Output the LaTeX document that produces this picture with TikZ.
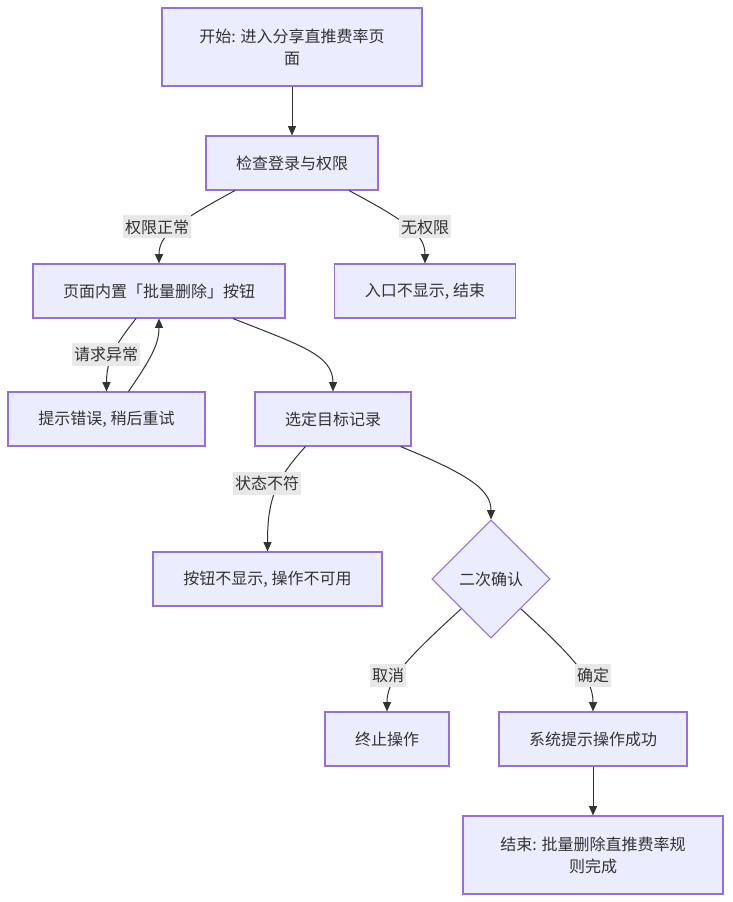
\documentclass[tikz,border=0pt]{standalone}
\usepackage{fontspec}
\newfontfamily\cjk{Noto Sans CJK SC}
\usetikzlibrary{shapes.geometric,arrows.meta,calc}
\definecolor{nodefill}{HTML}{ECECFF}
\definecolor{nodeline}{HTML}{9370DB}
\definecolor{edgecol}{HTML}{333333}
\definecolor{lblfill}{HTML}{E8E8E8}
\definecolor{txtcol}{HTML}{333333}
\begin{document}
\begin{tikzpicture}[x=0.75pt,y=-0.75pt,
  box/.style={draw=nodeline,fill=nodefill,line width=0.8pt,align=center,
    font=\cjk\fontsize{12pt}{16.5pt}\selectfont,text=txtcol,inner sep=0pt},
  dia/.style={diamond,draw=nodeline,fill=nodefill,line width=0.8pt,
    font=\cjk\fontsize{12pt}{16.5pt}\selectfont,text=txtcol,inner sep=0pt,
    minimum width=118*0.75pt,minimum height=118*0.75pt},
  lbl/.style={fill=lblfill,font=\cjk\fontsize{12pt}{16.5pt}\selectfont,text=txtcol,
    inner xsep=1.5pt,inner ysep=0pt,minimum height=23*0.75pt},
  edge/.style={draw=edgecol,line width=0.75pt,-{Triangle[length=7pt,width=6pt]}}
]
\useasboundingbox[fill=white] (0,0) rectangle (732,902);

% nodes
\node[box,minimum width=260*0.75pt,minimum height=78*0.75pt] (start) at (292,47) {开始: 进入分享直推费率页\\面};
\node[box,minimum width=172*0.75pt,minimum height=54*0.75pt] (check) at (292,163) {检查登录与权限};
\node[box,minimum width=252*0.75pt,minimum height=54*0.75pt] (btn) at (159,291) {页面内置「批量删除」按钮};
\node[box,minimum width=181*0.75pt,minimum height=54*0.75pt] (noperm) at (425,291) {入口不显示, 结束};
\node[box,minimum width=197*0.75pt,minimum height=54*0.75pt] (err) at (106.5,419) {提示错误, 稍后重试};
\node[box,minimum width=156*0.75pt,minimum height=54*0.75pt] (select) at (333,419) {选定目标记录};
\node[box,minimum width=229*0.75pt,minimum height=54*0.75pt] (hide) at (267.5,579) {按钮不显示, 操作不可用};
\node[dia] (confirm) at (491,579) {二次确认};
\node[box,minimum width=124*0.75pt,minimum height=54*0.75pt] (abort) at (387,739) {终止操作};
\node[box,minimum width=188*0.75pt,minimum height=54*0.75pt] (success) at (593,739) {系统提示操作成功};
\node[box,minimum width=260*0.75pt,minimum height=78*0.75pt] (end) at (593,855) {结束: 批量删除直推费率规\\则完成};

% edges
\draw[edge] (start.south) -- (check.north);
\draw[edge] ($(check.south)+(-57,0)$) .. controls (177,222) and (159,235) .. (btn.north);
\draw[edge] ($(check.south)+(57,0)$) .. controls (408,222) and (425,235) .. (noperm.north);
\draw[edge] ($(btn.south)+(-23,0)$) .. controls (115,345) and (106.5,360) .. (err.north);
\draw[edge] ($(err.north)+(22,0)$) .. controls (150,360) and (159,345) .. (btn.south);
\draw[edge] ($(btn.south)+(74,0)$) .. controls (300,345) and (333,355) .. (select.north);
\draw[edge] ($(select.south)+(-27.5,0)$) .. controls (275,480) and (267.5,500) .. (hide.north);
\draw[edge] ($(select.south)+(67.5,0)$) .. controls (470,475) and (491,490) .. (confirm.north);
\draw[edge] ($(confirm.west)!0.5!(confirm.south)$) .. controls (405,660) and (387,680) .. (abort.north);
\draw[edge] ($(confirm.east)!0.5!(confirm.south)$) .. controls (577,660) and (593,680) .. (success.north);
\draw[edge] (success.south) -- (end.north);

% edge labels
\node[lbl] (l1) at (157,227) {权限正常};
\node[lbl] (l2) at (425,227) {无权限};
\node[lbl] (l3) at (106,354.5) {请求异常};
\node[lbl] (l4) at (267,483.5) {状态不符};
\node[lbl] (l5) at (388,675) {取消};
\node[lbl] (l6) at (593,675) {确定};
\end{tikzpicture}
\end{document}
